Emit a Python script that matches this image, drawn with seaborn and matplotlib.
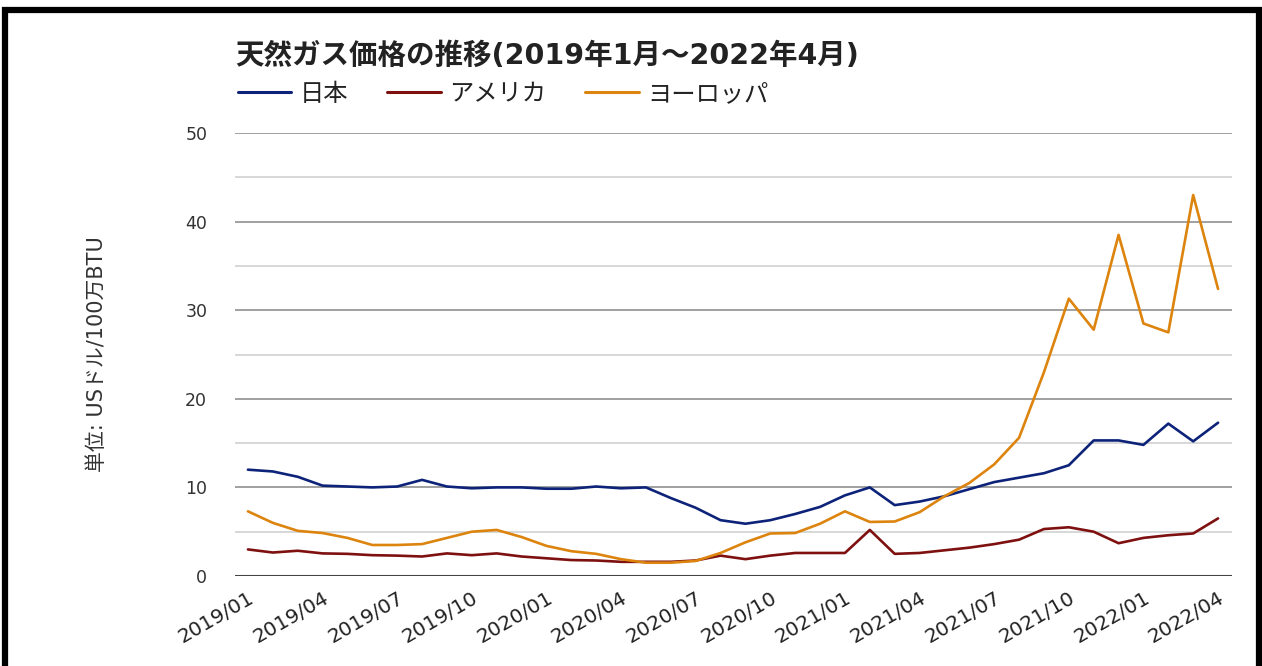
import pandas as pd
import numpy as np
import matplotlib
matplotlib.use("Agg")
import matplotlib.pyplot as plt
import seaborn as sns
from matplotlib.patches import Rectangle

# monthly labels 2019/01 .. 2022/04
months = [f"{y}/{m:02d}" for y in range(2019, 2023) for m in range(1, 13)][:40]
tick_labels = months[::3]

japan = [12.0, 11.8, 11.2, 10.2, 10.1, 10.0, 10.1, 10.85, 10.1, 9.9,
         10.0, 10.0, 9.85, 9.85, 10.1, 9.9, 10.0, 8.8, 7.7, 6.3,
         5.9, 6.3, 7.0, 7.8, 9.1, 10.0, 8.0, 8.4, 9.0, 9.8,
         10.6, 11.1, 11.6, 12.5, 15.3, 15.3, 14.8, 17.2, 15.2, 17.3]
america = [3.0, 2.65, 2.85, 2.55, 2.5, 2.35, 2.3, 2.2, 2.55, 2.35,
           2.55, 2.2, 2.0, 1.8, 1.75, 1.6, 1.6, 1.6, 1.75, 2.3,
           1.9, 2.3, 2.6, 2.6, 2.6, 5.2, 2.5, 2.6, 2.9, 3.2,
           3.6, 4.1, 5.3, 5.5, 5.0, 3.7, 4.3, 4.6, 4.8, 6.5]
europe = [7.3, 6.0, 5.1, 4.85, 4.3, 3.5, 3.5, 3.6, 4.3, 5.0,
          5.2, 4.4, 3.4, 2.8, 2.5, 1.9, 1.5, 1.5, 1.7, 2.6,
          3.8, 4.8, 4.85, 5.9, 7.3, 6.1, 6.15, 7.2, 9.0, 10.5,
          12.6, 15.6, 23.0, 31.3, 27.8, 38.5, 28.5, 27.5, 43.0, 32.4]

series_names = ["日本", "アメリカ", "ヨーロッパ"]
colors = ["#0d2379", "#7e1010", "#dc840e"]

df = pd.DataFrame({
    "idx": list(range(40)) * 3,
    "value": japan + america + europe,
    "series": [series_names[0]] * 40 + [series_names[1]] * 40 + [series_names[2]] * 40,
})

sns.set_theme(style="white")
plt.rcParams['font.family'] = ['Noto Sans CJK JP', 'DejaVu Sans']
wide = ['DejaVu Sans', 'Noto Sans CJK JP']

fig = plt.figure(figsize=(12.62, 6.66), dpi=100)
ax = fig.add_axes([235 / 1262, 1 - 576 / 666, (1232 - 235) / 1262, (576 - 133) / 666])

sns.lineplot(data=df, x="idx", y="value", hue="series", palette=colors,
             linewidth=1.9, ax=ax, legend=False)

ax.set_xlim(-0.52, 39.56)
ax.set_ylim(0, 50)

# gridlines
for v in range(5, 51, 5):
    ax.axhline(v, color="#999999" if v % 10 == 0 else "#d4d4d4", lw=1.3, zorder=0)
ax.axhline(0, color="#444444", lw=2.2, zorder=1)

for s in ax.spines.values():
    s.set_visible(False)

ax.set_yticks(range(0, 51, 10))
ax.set_yticklabels([str(v) for v in range(0, 51, 10)])
for t in ax.get_yticklabels():
    t.set_fontfamily("DejaVu Sans")
    t.set_fontsize(12.5)
    t.set_color("#333333")
ax.tick_params(axis="y", length=0, pad=20)

ax.set_xticks(range(0, 40, 3))
ax.set_xticklabels(tick_labels, rotation=30, ha="right", rotation_mode="anchor")
for t in ax.get_xticklabels():
    t.set_fontfamily("DejaVu Sans")
    t.set_fontsize(14.5)
    t.set_color("#222222")
ax.tick_params(axis="x", length=0, pad=9)

ax.set_xlabel("")
ax.set_ylabel("単位: USドル/100万BTU", fontsize=15, color="#333333", labelpad=56,
              family=wide)

fig.text(235 / 1262, 1 - 56 / 666, "天然ガス価格の推移(2019年1月～2022年4月)",
         fontsize=20.5, fontweight="bold", va="center", ha="left", color="#222222",
         family=wide)

# legend
handles = [plt.Line2D([0], [0], color=c, lw=2.2) for c in colors]
fig.legend(handles, series_names, loc="center left",
           bbox_to_anchor=(216 / 1262, 1 - 94 / 666), ncol=3, frameon=False,
           fontsize=17.5, handlelength=2.2, handletextpad=0.35, columnspacing=1.6,
           labelcolor="#222222")

# outer frame
fig.patches.append(Rectangle((5 / 1262, -0.05), 1254 / 1262, 1.05 - 10 / 666,
                             transform=fig.transFigure, fill=False,
                             edgecolor="black", lw=4.5))

fig.savefig("out.png", dpi=100)
